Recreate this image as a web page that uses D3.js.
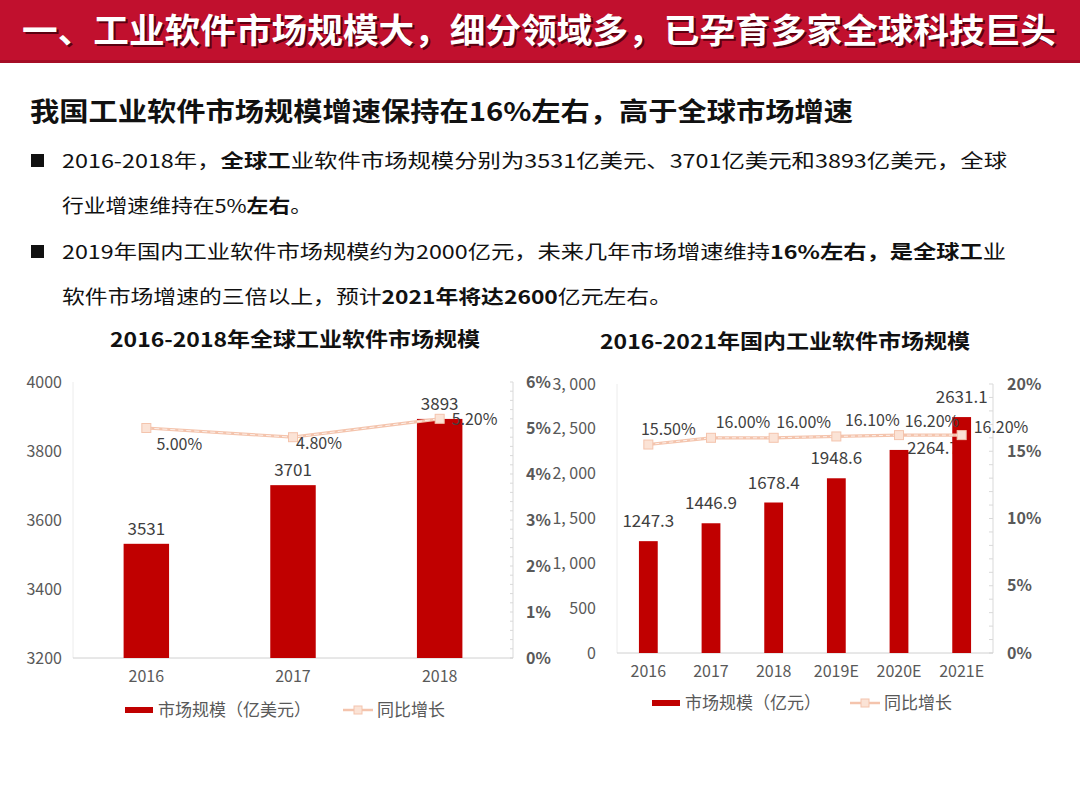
<!DOCTYPE html>
<html><head><meta charset="utf-8">
<script src="https://cdn.jsdelivr.net/npm/d3@7/dist/d3.min.js"></script>
<style>
html,body{margin:0;padding:0;background:#fff;}
svg{display:block;font-family:"Noto Sans CJK SC","Noto Sans",sans-serif;}
</style></head>
<body>
<svg id="c" width="1080" height="810"></svg>
<script>
// ---------- data ----------
const headerText = "一、工业软件市场规模大，细分领域多，已孕育多家全球科技巨头";
const subTitle = "我国工业软件市场规模增速保持在16%左右，高于全球市场增速";
const bulletLines = [
  [["2016-2018年，",0],["全球工",1],["业软件市场规模分别为3531亿美元、3701亿美元和3893亿美元，全球",0]],
  [["行业增速维持在5%",0],["左右",1],["。",0]],
  [["2019年国内工业软件市场规模约为2000亿元，未来几年市场增速维持",0],["16%左右，是全球工",1],["业",0]],
  [["软件市场增速的三倍以上，预计",0],["2021年将达2600",1],["亿元左右。",0]]
];
const globalTitle = "2016-2018年全球工业软件市场规模";
const globalYears = ["2016","2017","2018"];
const globalSize = [3531,3701,3893];
const globalGrowth = [5.00,4.80,5.20];
const globalLeftTicks = [3200,3400,3600,3800,4000];
const globalRightTicks = [0,1,2,3,4,5,6];
const globalLegend = ["市场规模（亿美元）","同比增长"];

const domTitle = "2016-2021年国内工业软件市场规模";
const domYears = ["2016","2017","2018","2019E","2020E","2021E"];
const domSize = [1247.3,1446.9,1678.4,1948.6,2264.7,2631.1];
const domGrowth = [15.5,16.0,16.0,16.1,16.2,16.2];
const domLeftTicks = [0,500,1000,1500,2000,2500,3000];
const domRightTicks = [0,5,10,15,20];
const domLegend = ["市场规模（亿元）","同比增长"];

// ---------- styles ----------
const RED = "#c00000";
const LINEC = "#f4c4ad";
const MARK_FILL = "#fbe3d6";
const TXT = "#404040";
const AX = "#595959";

const svg = d3.select("#c");

// header
svg.append("rect").attr("x",0).attr("y",0).attr("width",1080).attr("height",62).attr("fill","#c1102e");
svg.append("rect").attr("x",0).attr("y",60).attr("width",1080).attr("height",3).attr("fill","#a50d26");
svg.append("text").attr("x",24).attr("y",45).attr("font-size",34).attr("font-weight","bold")
  .attr("fill","#5a0010").attr("textLength",1034).attr("lengthAdjust","spacingAndGlyphs").text(headerText);
svg.append("text").attr("x",22).attr("y",43).attr("font-size",34).attr("font-weight","bold")
  .attr("fill","#fff").attr("textLength",1034).attr("lengthAdjust","spacingAndGlyphs").text(headerText);

// subtitle
svg.append("text").attr("x",30).attr("y",121).attr("font-size",26).attr("font-weight","bold")
  .attr("fill","#111").attr("textLength",823).attr("lengthAdjust","spacingAndGlyphs").text(subTitle);

// bullets
const bulletY = [168,213,259,304];
const bulletW = [945,250,944,610];
[0,2].forEach(i=>{
  svg.append("rect").attr("x",31).attr("y",bulletY[i]-14).attr("width",13).attr("height",13).attr("fill","#111");
});
bulletLines.forEach((segs,i)=>{
  const t = svg.append("text").attr("x",62).attr("y",bulletY[i]).attr("font-size",19).attr("fill","#111")
    .attr("textLength",bulletW[i]).attr("lengthAdjust","spacingAndGlyphs");
  segs.forEach(s=>t.append("tspan").attr("font-weight",s[1]?"bold":"normal").text(s[0]));
});

// ---------- generic chart ----------
function drawChart(o){
  const g = svg.append("g");
  const x = d3.scaleBand().domain(o.cats).range([o.x0,o.x1]).paddingInner(o.pad).paddingOuter(o.pad/2);
  const yL = d3.scaleLinear().domain(o.lDom).range([o.yb,o.yt]);
  const yR = d3.scaleLinear().domain(o.rDom).range([o.yb,o.yt]);

  // title
  g.append("text").attr("x",o.titleX).attr("y",o.titleY).attr("text-anchor","middle")
    .attr("font-size",20).attr("font-weight","bold").attr("fill","#111")
    .attr("textLength",o.titleW).attr("lengthAdjust","spacingAndGlyphs").text(o.title);

  // axis lines
  g.append("line").attr("x1",o.x0).attr("x2",o.x0).attr("y1",o.yt).attr("y2",o.yb).attr("stroke","#ececec");
  g.append("line").attr("x1",o.x1).attr("x2",o.x1).attr("y1",o.yt).attr("y2",o.yb).attr("stroke","#d9d9d9");
  const minor = d3.range(o.rDom[0],o.rDom[1]+1e-9,o.minorStep);
  g.selectAll(".mt").data(minor).enter().append("line")
    .attr("x1",o.x1).attr("x2",o.x1+o.minorLen).attr("y1",d=>yR(d)).attr("y2",d=>yR(d))
    .attr("stroke","#d9d9d9");
  g.append("line").attr("x1",o.x0).attr("x2",o.x1).attr("y1",o.yb).attr("y2",o.yb).attr("stroke","#d0d0d0");

  // left ticks
  const la = d3.axisLeft(yL).tickValues(o.lTicks).tickSize(0).tickPadding(0).tickFormat(o.lFmt);
  const lg = g.append("g").attr("transform",`translate(${o.lLabX},0)`).call(la);
  lg.select(".domain").remove();
  lg.selectAll("text").attr("font-size",16).attr("fill",AX).attr("font-family","Noto Sans CJK SC");
  // right ticks
  const ra = d3.axisRight(yR).tickValues(o.rTicks).tickSize(0).tickPadding(0).tickFormat(d=>d+"%");
  const rg = g.append("g").attr("transform",`translate(${o.rLabX},0)`).call(ra);
  rg.select(".domain").remove();
  rg.selectAll("text").attr("font-size",16).attr("fill",AX).attr("font-weight","bold").attr("font-family","Noto Sans CJK SC");
  // bottom ticks
  const ba = d3.axisBottom(x).tickSize(0).tickPadding(0);
  const bg = g.append("g").attr("transform",`translate(0,${o.xLabY})`).call(ba);
  bg.select(".domain").remove();
  bg.selectAll("text").attr("font-size",16).attr("fill",AX).attr("font-family","Noto Sans CJK SC");

  // bar value labels (behind bars)
  g.selectAll(".bl").data(o.vals).enter().append("text")
    .attr("x",(d,i)=> x(o.cats[i])+x.bandwidth()/2 + (o.sideLabel && o.sideLabel(i) ? o.sideOff : 0))
    .attr("y",(d,i)=> (o.sideLabel && o.sideLabel(i)) ? yL(d)+4 : yL(d)-o.barLabOff)
    .attr("text-anchor","middle").attr("font-size",17).attr("fill",TXT)
    .text(d=>o.vFmt(d));

  // bars
  g.selectAll(".bar").data(o.vals).enter().append("rect")
    .attr("x",(d,i)=>x(o.cats[i])).attr("width",x.bandwidth())
    .attr("y",d=>yL(d)).attr("height",d=>o.yb-yL(d)).attr("fill",RED);

  // line
  const pts = o.growth.map((v,i)=>[x(o.cats[i])+x.bandwidth()/2, yR(v)]);
  const ln = d3.line();
  g.append("path").attr("d",ln(pts)).attr("fill","none").attr("stroke",LINEC).attr("stroke-width",3.2);
  g.append("path").attr("d",ln(pts)).attr("fill","none").attr("stroke","#fdf0ea").attr("stroke-width",1)
    .attr("stroke-dasharray",o.dash);
  g.selectAll(".mk").data(pts).enter().append("rect")
    .attr("x",d=>d[0]-4.5).attr("y",d=>d[1]-4.5).attr("width",9).attr("height",9)
    .attr("fill",MARK_FILL).attr("stroke",LINEC).attr("stroke-width",1);
  // line labels
  g.selectAll(".ll").data(o.growth).enter().append("text")
    .attr("x",(d,i)=>pts[i][0]+o.gOff(i)[0]).attr("y",(d,i)=>pts[i][1]+o.gOff(i)[1])
    .attr("text-anchor",(d,i)=>o.gOff(i)[2]).attr("font-size",16).attr("fill",TXT)
    .text(d=>d3.format(".2f")(d)+"%");

  // legend
  g.append("rect").attr("x",o.legX).attr("y",o.legY-3).attr("width",28).attr("height",6).attr("fill",RED);
  g.append("text").attr("x",o.legX+33).attr("y",o.legY+6).attr("font-size",17).attr("fill",AX).text(o.legend[0]);
  const lx = o.legX+o.legGap;
  g.append("line").attr("x1",lx).attr("x2",lx+30).attr("y1",o.legY).attr("y2",o.legY).attr("stroke",LINEC).attr("stroke-width",2.5);
  g.append("rect").attr("x",lx+11).attr("y",o.legY-4).attr("width",8).attr("height",8).attr("fill",MARK_FILL).attr("stroke",LINEC);
  g.append("text").attr("x",lx+34).attr("y",o.legY+6).attr("font-size",17).attr("fill",AX).text(o.legend[1]);
}

drawChart({
  title:globalTitle, titleX:295, titleY:347, titleW:370,
  cats:globalYears, vals:globalSize, growth:globalGrowth,
  x0:73, x1:513, yt:382, yb:658, pad:0.69,
  lDom:[3200,4000], rDom:[0,6], lTicks:globalLeftTicks, rTicks:globalRightTicks,
  lFmt:d3.format("d"), vFmt:d3.format("d"), barLabOff:9,
  lLabX:62, rLabX:526, xLabY:671,
  minorStep:0.2, minorLen:-3, dash:"5,3",
  gOff:i=> i<2 ? [i===0?33:26, i===0?22:12, "middle"] : [12, 6, "start"],
  legX:125, legY:710, legGap:218, legend:globalLegend
});

drawChart({
  title:domTitle, titleX:785, titleY:349, titleW:370,
  cats:domYears, vals:domSize, growth:domGrowth,
  x0:617, x1:993, yt:384, yb:653, pad:0.70,
  lDom:[0,3000], rDom:[0,20], lTicks:domLeftTicks, rTicks:domRightTicks,
  lFmt:d=>d3.format(",")(d).replace(",",", "), vFmt:d3.format(".1f"), barLabOff:14,
  lLabX:596, rLabX:1007, xLabY:666,
  minorStep:1, minorLen:-4, dash:"4,3",
  sideLabel:i=> i===4, sideOff:34,
  gOff:i=> i<5 ? [[20,32,30,36,33][i], i===4?-8:-10, "middle"] : [12, -2, "start"],
  legX:652, legY:703, legGap:198, legend:domLegend
});
</script>
</body></html>
